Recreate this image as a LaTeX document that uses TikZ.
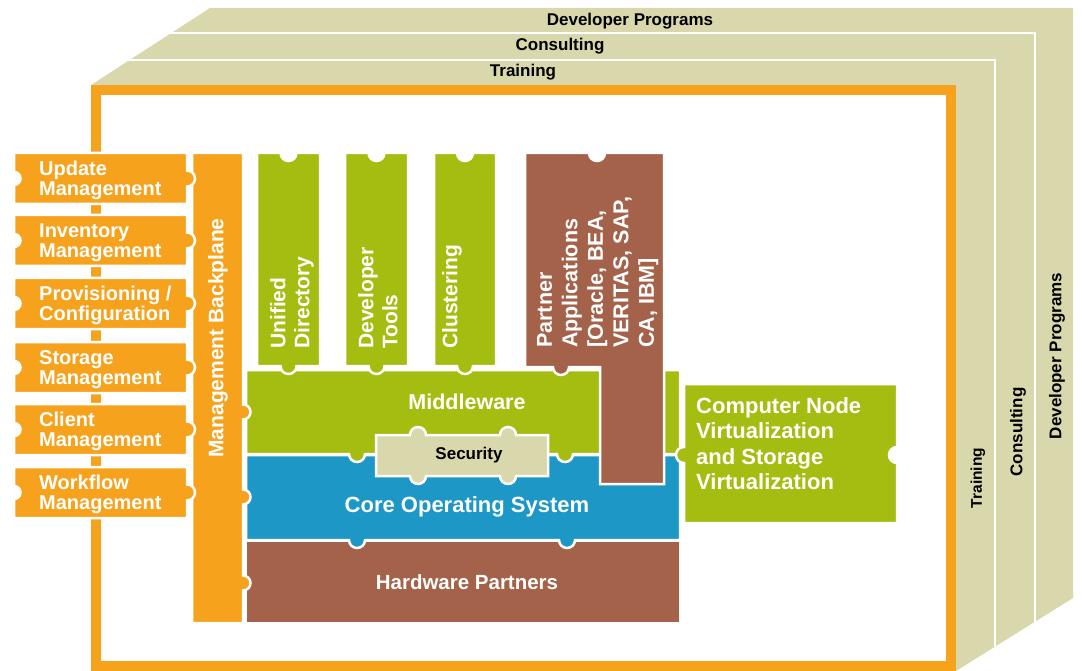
\documentclass[tikz,border=0pt]{standalone}
\usepackage{fontspec}
\setmainfont{Liberation Sans}
\definecolor{orangeC}{HTML}{F6A21D}
\definecolor{greenC}{HTML}{A4BD10}
\definecolor{blueC}{HTML}{1D97C6}
\definecolor{brownC}{HTML}{A4624A}
\definecolor{tanC}{HTML}{D9D7AC}
\begin{document}
\begin{tikzpicture}[x=1pt,y=1pt,yscale=-1,
  piece/.style={draw=white, line width=2.5pt, line join=miter},
  lbl/.style={text=white, inner sep=0pt},
  tanlbl/.style={text=black, inner sep=0pt, font=\fontsize{17}{20}\selectfont\bfseries},
  sep/.style={draw=white, line width=2pt}]
\useasboundingbox (0,0) rectangle (1082,671);
% back layers
\fill[tanC] (91,85) -- (210,8) -- (1073,8) -- (1073,598) -- (956,671) -- (91,671) -- cycle;
\draw[sep] (110,60) -- (995,60) -- (995,665);
\draw[sep] (150,33) -- (1035,33) -- (1035,640);
\node[tanlbl] (tDev) at (630,21) {Developer Programs};
\node[tanlbl] (tCons) at (560,46.5) {Consulting};
\node[tanlbl] (tTrain) at (523,72.5) {Training};
\node[tanlbl, rotate=90, font=\fontsize{15.5}{18}\selectfont\bfseries] (rTrain) at (978,478) {Training};
\node[tanlbl, rotate=90] (rCons) at (1018,432) {Consulting};
\node[tanlbl, rotate=90] (rDev) at (1057,356) {Developer Programs};
% front frame
\draw[orangeC, line width=10pt, fill=white] (96,90) rectangle (951,666);
% hardware
\draw[piece, fill=brownC] (246,541) rectangle (680,623);
% core OS
\draw[piece, fill=blueC] (246,455) -- (680,455) -- (680,540) -- (575,540)
  arc[start angle=0, end angle=180, radius=8pt] -- (365,540)
  arc[start angle=0, end angle=180, radius=8pt] -- (246,540) -- cycle;
% middleware
\draw[piece, fill=greenC] (246,370) -- (680,370) -- (680,454) -- (573,454)
  arc[start angle=0, end angle=180, radius=8pt] -- (365,454)
  arc[start angle=0, end angle=180, radius=8pt] -- (246,454) -- cycle;
% security
\draw[piece, fill=tanC] (376,435) -- (410,435)
  arc[start angle=180, end angle=360, radius=8pt] -- (500,435)
  arc[start angle=180, end angle=360, radius=8pt] -- (548,435) -- (548,476) -- (516,476)
  arc[start angle=0, end angle=180, radius=8pt] -- (426,476)
  arc[start angle=0, end angle=180, radius=8pt] -- (376,476) -- cycle;
% columns
\foreach \l/\r in {257/320, 345/408, 434/496}{
  \pgfmathsetmacro{\c}{(\l+\r)/2}
  \draw[piece, fill=greenC] (\l,153) -- (\c-8,153)
    arc[start angle=180, end angle=0, radius=8pt] -- (\r,153) -- (\r,366) -- (\c+8,366)
    arc[start angle=0, end angle=180, radius=8pt] -- (\l,366) -- cycle;
}
% partner applications
\draw[piece, fill=brownC] (525,153) -- (589,153)
  arc[start angle=180, end angle=0, radius=8pt] -- (664,153) -- (664,484) -- (600,484)
  -- (600,367) -- (569,367)
  arc[start angle=0, end angle=180, radius=8pt] -- (525,367) -- cycle;
% backplane
\draw[piece, fill=orangeC] (192,153) -- (243,153) -- (243,404.5)
  arc[start angle=-90, end angle=90, radius=7.5pt] -- (243,489.5)
  arc[start angle=-90, end angle=90, radius=7.5pt] -- (243,575.5)
  arc[start angle=-90, end angle=90, radius=7.5pt] -- (243,623) -- (192,623) -- cycle;
% left management boxes
\foreach \t/\txt/\nm in {153/{Update\\Management}/mUpd, 215/{Inventory\\Management}/mInv,
   278/{Provisioning /\\Configuration}/mProv, 342/{Storage\\Management}/mSto,
   404/{Client\\Management}/mCli, 467/{Workflow\\Management}/mWork}{
  \pgfmathsetmacro{\m}{\t+25.5}
  \pgfmathsetmacro{\b}{\t+51}
  \draw[piece, fill=orangeC] (14,\t) -- (187,\t) -- (187,\m-8)
    arc[start angle=-90, end angle=90, radius=8pt] -- (187,\b) -- (14,\b) -- (14,\m+6.5)
    arc[start angle=90, end angle=-90, radius=6.5pt] -- cycle;
  \node[lbl, anchor=west, align=left, font=\fontsize{20}{20.5}\selectfont\bfseries]
    (\nm) at (39,\m+2) {\txt};
}
% computer node virtualization
\draw[piece, fill=greenC] (684,384) -- (897,384) -- (897,447)
  arc[start angle=-90, end angle=-270, radius=8pt] -- (897,523) -- (684,523) -- (684,463)
  arc[start angle=90, end angle=270, radius=8pt] -- cycle;
% labels
\node[lbl, rotate=90, font=\fontsize{21}{24}\selectfont\bfseries] (bp) at (218,338) {Management Backplane};
\node[lbl, rotate=90, anchor=north west, align=left, font=\fontsize{21}{24}\selectfont\bfseries]
  (ud) at (270,349) {Unified\\Directory};
\node[lbl, rotate=90, anchor=north west, align=left, font=\fontsize{21}{24}\selectfont\bfseries]
  (dt) at (358,349) {Developer\\Tools};
\node[lbl, rotate=90, anchor=north west, align=left, font=\fontsize{21}{24}\selectfont\bfseries]
  (cl) at (442,349) {Clustering};
\node[lbl, rotate=90, anchor=north west, align=left, font=\fontsize{21.5}{25.5}\selectfont\bfseries]
  (pa) at (537,348) {Partner\\Applications\\{[Oracle, BEA,}\\VERITAS, SAP,\\CA, IBM]};
\node[lbl, font=\fontsize{21.5}{24}\selectfont\bfseries] (mw) at (467,402) {Middleware};
\node[lbl, font=\fontsize{22}{24}\selectfont\bfseries] (os) at (467,507) {Core Operating System};
\node[lbl, font=\fontsize{20.5}{24}\selectfont\bfseries] (hw) at (467,582) {Hardware Partners};
\node[tanlbl] (sec) at (469,455) {Security};
\node[lbl, anchor=north west, align=left, font=\fontsize{22}{25.5}\selectfont\bfseries]
  (cn) at (696,397) {Computer Node\\Virtualization\\and Storage\\Virtualization};
\end{tikzpicture}
\end{document}
